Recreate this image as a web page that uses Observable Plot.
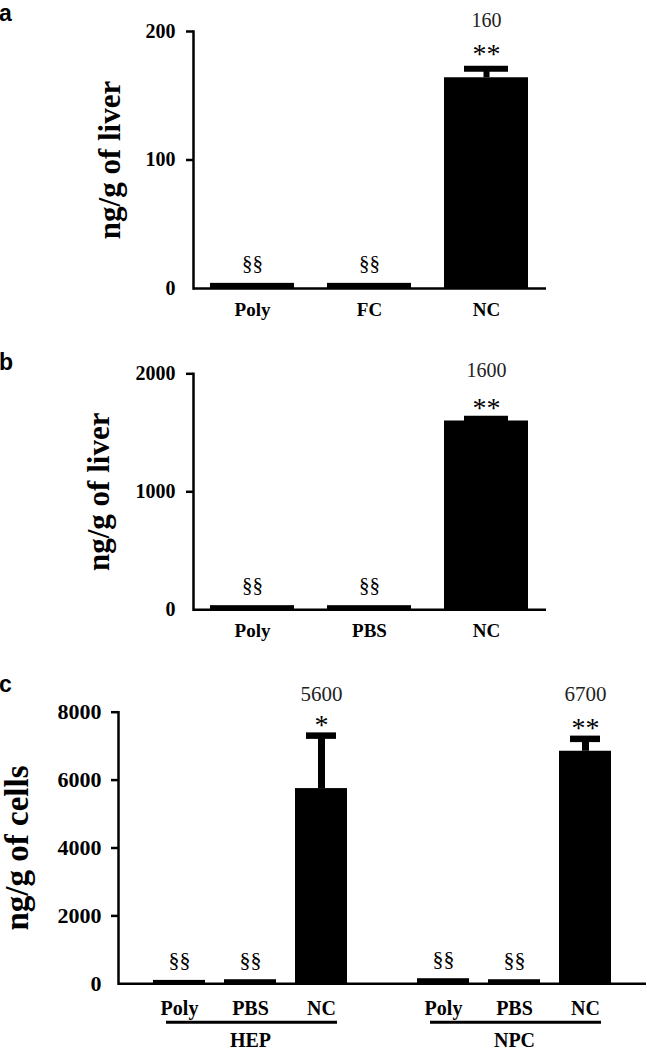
<!DOCTYPE html>
<html><head><meta charset="utf-8">
<script src="https://cdn.jsdelivr.net/npm/d3@7"></script>
<script src="https://cdn.jsdelivr.net/npm/@observablehq/plot@0.6"></script>
<style>
body{margin:0;background:#fff;}
#wrap{position:relative;width:647px;height:1050px;overflow:hidden;font-family:"Liberation Serif",serif;}
.panel{position:absolute;left:0;}
.letter{position:absolute;font-family:"Liberation Sans",Arial,sans-serif;font-weight:bold;font-size:23px;line-height:17px;color:#000;}
</style></head><body>
<div id="wrap"></div>
<script>
// ---------- Panel a ----------
const catsA = ["Poly", "FC", "NC"];
const valuesA = [4, 4, 164];
const errA = [0, 0, 7];
const sigsA = ["§§", "§§", "**"];
const labelsA = ["", "", "160"];
const ticksA = [0, 100, 200];
const yLabelA = "ng/g of liver";

// ---------- Panel b ----------
const catsB = ["Poly", "PBS", "NC"];
const valuesB = [35, 35, 1600];
const errB = [0, 0, 20];
const sigsB = ["§§", "§§", "**"];
const labelsB = ["", "", "1600"];
const ticksB = [0, 1000, 2000];
const yLabelB = "ng/g of liver";

// ---------- Panel c ----------
const groupsC = ["HEP", "HEP", "HEP", "NPC", "NPC", "NPC"];
const catsC = ["Poly", "PBS", "NC", "Poly", "PBS", "NC"];
const valuesC = [100, 120, 5750, 150, 120, 6850];
const errC = [0, 0, 1560, 0, 0, 365];
const sigsC = ["§§", "§§", "*", "§§", "§§", "**"];
const labelsC = ["", "", "5600", "", "", "6700"];
const ticksC = [0, 2000, 4000, 6000, 8000];
const yLabelC = "ng/g of cells";

const SERIF = "'Liberation Serif', 'Times New Roman', serif";
const fmt = d => String(d);
const wrap = document.getElementById("wrap");

function place(node, top) {
  const d = document.createElement("div");
  d.className = "panel";
  d.style.top = top + "px";
  d.appendChild(node);
  wrap.appendChild(d);
}
function letter(t, left, top) {
  const d = document.createElement("div");
  d.className = "letter";
  d.textContent = t;
  d.style.left = left + "px";
  d.style.top = top + "px";
  wrap.appendChild(d);
}

function simplePanel(o) {
  const data = o.cats.map((c, i) => ({cat: c, v: o.values[i], e: o.errs[i], top: o.values[i] + o.errs[i], sig: o.sigs[i], lab: o.labels[i]}));
  const errData = data.filter(d => d.e > 0);
  return Plot.plot({
    width: 647, height: o.height,
    marginTop: o.mt, marginBottom: o.mb, marginLeft: 193, marginRight: 101,
    style: {fontFamily: SERIF, background: "transparent", color: "#000", overflow: "visible"},
    x: {domain: o.cats, paddingInner: 0.28, paddingOuter: 0.14},
    y: {domain: [0, o.max]},
    marks: [
      Plot.barY(data, {x: "cat", y: "v", fill: "#000"}),
      Plot.ruleX(errData, {x: "cat", y1: "v", y2: "top", stroke: "#000", strokeWidth: 6}),
      Plot.tickY(errData, {x: "cat", y: "top", stroke: "#000", strokeWidth: 6, inset: 20}),
      Plot.ruleY([0], {stroke: "#000", strokeWidth: 2.5}),
      Plot.frame({anchor: "left", stroke: "#000", strokeWidth: 2.5}),
      Plot.axisY({ticks: o.ticks, tickFormat: fmt, tickSize: 0, tickPadding: 18, fontSize: 20, fontWeight: "bold", label: null}),
      Plot.axisY({ticks: o.ticks.filter(t => t > 0), tickSize: 7, fill: "none", stroke: "#000", strokeWidth: 2.5, label: null}),
      Plot.axisX({tickSize: 0, tickPadding: 14, fontSize: 19, fontWeight: "bold", label: null}),
      Plot.text(data.filter(d => d.sig.includes("§")), {x: "cat", y: "v", text: "sig", dy: -20, fontSize: 21}),
      Plot.text(data.filter(d => d.sig.includes("*")), {x: "cat", y: "top", text: "sig", dy: o.starDy, fontSize: 28}),
      Plot.text(data.filter(d => d.lab !== ""), {x: "cat", text: "lab", frameAnchor: "top", dy: o.labDy, fontSize: 20, fill: "#222"}),
      Plot.text([o.ylabel], {frameAnchor: "left", textAnchor: "middle", rotate: -90, dx: o.ldx, fontSize: 31, fontWeight: "bold"})
    ]
  });
}

place(simplePanel({cats: catsA, values: valuesA, errs: errA, sigs: sigsA, labels: labelsA, ticks: ticksA, ylabel: yLabelA,
  max: 200, height: 325, mt: 31, mb: 37, starDy: -15, labDy: -19, ldx: -83}), 0);
place(simplePanel({cats: catsB, values: valuesB, errs: errB, sigs: sigsB, labels: labelsB, ticks: ticksB, ylabel: yLabelB,
  max: 2000, height: 330, mt: 48.3, mb: 45.7, starDy: -11, labDy: -11, ldx: -94}), 325);

// Panel c with facets per cell group
const dataC = catsC.map((c, i) => ({g: groupsC[i], cat: c, v: valuesC[i], e: errC[i], top: valuesC[i] + errC[i], sig: sigsC[i], lab: labelsC[i]}));
const errDataC = dataC.filter(d => d.e > 0);
const groupList = [...new Set(groupsC)];
const plotC = Plot.plot({
  width: 647, height: 395,
  marginTop: 56.7, marginBottom: 66.7, marginLeft: 117, marginRight: 1,
  style: {fontFamily: SERIF, background: "transparent", color: "#000", overflow: "visible"},
  fx: {domain: groupList, padding: 0},
  x: {domain: ["Poly", "PBS", "NC"], paddingInner: 0.264, paddingOuter: 0.469},
  y: {domain: [0, 8000]},
  marks: [
    Plot.barY(dataC, {fx: "g", x: "cat", y: "v", fill: "#000"}),
    Plot.ruleX(errDataC, {fx: "g", x: "cat", y1: "v", y2: "top", stroke: "#000", strokeWidth: 7}),
    Plot.tickY(errDataC, {fx: "g", x: "cat", y: "top", stroke: "#000", strokeWidth: 6.5, inset: 11}),
    Plot.ruleY([0], {stroke: "#000", strokeWidth: 2.5}),
    Plot.frame({anchor: "left", facetAnchor: "left", stroke: "#000", strokeWidth: 2.5}),
    Plot.axisY({ticks: ticksC, tickFormat: fmt, tickSize: 0, tickPadding: 17, fontSize: 22, fontWeight: "bold", label: null}),
    Plot.axisY({ticks: ticksC.filter(t => t > 0), tickSize: 7, fill: "none", stroke: "#000", strokeWidth: 2.5, label: null}),
    Plot.axisX({tickSize: 0, tickPadding: 17, fontSize: 20, fontWeight: "bold", label: null}),
    Plot.axisFx({anchor: "bottom", tickSize: 0, tickPadding: 49, fontSize: 20, fontWeight: "bold", label: null}),
    Plot.ruleY(groupList.map(g => ({g})), {fx: "g", y: () => 0, dy: 38.4, insetLeft: 48, insetRight: 45, stroke: "#000", strokeWidth: 3}),
    Plot.text(dataC.filter(d => d.sig.includes("§")), {fx: "g", x: "cat", y: "v", text: "sig", dy: -20, fontSize: 22}),
    Plot.text(dataC.filter(d => d.sig.includes("*")), {fx: "g", x: "cat", y: "top", text: "sig", dy: -11, fontSize: 28}),
    Plot.text(dataC.filter(d => d.lab !== ""), {fx: "g", x: "cat", text: "lab", frameAnchor: "top", dy: -26, fontSize: 21, fill: "#222"}),
    Plot.text([yLabelC], {frameAnchor: "left", facetAnchor: "left", textAnchor: "middle", rotate: -90, dx: -101, fontSize: 33, fontWeight: "bold"})
  ]
});
place(plotC, 655);

letter("a", -1, 4.5);
letter("b", -1, 353.5);
letter("c", -1, 675.5);
</script>
</body></html>
